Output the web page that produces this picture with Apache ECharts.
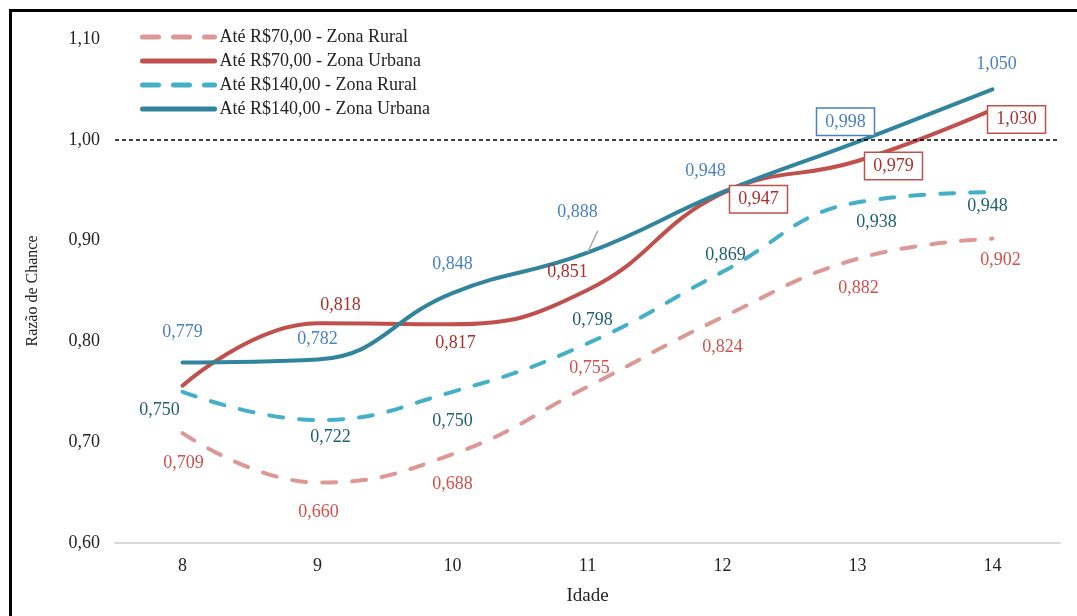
<!DOCTYPE html>
<html>
<head>
<meta charset="utf-8">
<script src="https://cdn.jsdelivr.net/npm/echarts@6/dist/echarts.min.js"></script>
<style>
  html, body { margin: 0; padding: 0; background: #fff; }
  #chart { width: 1077px; height: 616px; }
</style>
</head>
<body>
<div id="chart"></div>
<script>
// dados
var idades = ['8', '9', '10', '11', '12', '13', '14'];
var ruralAte70 = [0.709, 0.660, 0.688, 0.755, 0.824, 0.882, 0.902];
var urbanaAte70 = [0.756, 0.818, 0.817, 0.851, 0.947, 0.979, 1.030];
var ruralAte140 = [0.750, 0.722, 0.750, 0.798, 0.869, 0.938, 0.948];
var urbanaAte140 = [0.779, 0.782, 0.848, 0.888, 0.948, 0.998, 1.050];
var nomes = ['Até R$70,00 - Zona Rural', 'Até R$70,00 - Zona Urbana',
  'Até R$140,00 - Zona Rural', 'Até R$140,00 - Zona Urbana'];

// deslocamento dos rótulos [dx, dy] (null = sem rótulo)
var offRural70 = [[1, 30], [1, 30], [0, 30], [2, -18], [0, 30], [1, 30], [8, 22]];
var offUrbana70 = [null, [23, -18], [3, 19], [-20, -18], [36, 6], [36, 5], [24, 10]];
var offRural140 = [[-23, 18], [13, 17], [0, 29], [5, -23], [3, -17], [19, 20], [-5, 14]];
var offUrbana140 = [[0, -30], [0, -20], [0, -29], [-10, -40], [-17, -21], [-12, -20], [4, -25]];
var caixaUrbana70 = [false, false, false, false, true, true, true];
var caixaUrbana140 = [false, false, false, false, false, true, false];

var fonte = '"Liberation Serif", "Times New Roman", serif';

function virgula(v, d) {
  return v.toFixed(d).replace('.', ',');
}

function montaDados(valores, offs, cor, caixas, guia) {
  return valores.map(function(v, i) {
    var o = offs[i];
    if (!o) return { value: v, label: { show: false } };
    var lab = {
      show: true,
      position: 'inside',
      offset: o,
      color: cor,
      fontFamily: fonte,
      fontSize: 18,
      formatter: function() { return virgula(v, 3); }
    };
    if (caixas && caixas[i]) {
      lab.borderColor = cor === '#a8302e' ? '#c0504d' : '#4a7fc1';
      lab.borderWidth = 1.5;
      lab.padding = [5, 8, 3, 8];
      lab.backgroundColor = '#fff';
    }
    var item = { value: v, label: lab };
    if (guia && guia[i]) {
      item.labelLine = { show: true, lineStyle: { color: '#a6a6a6', width: 1.5 } };
    }
    return item;
  });
}

function serie(nome, valores, cor, tracejado, offs, corRotulo, caixas, guia) {
  return {
    name: nome,
    type: 'line',
    smooth: 0.45,
    symbol: 'circle',
    symbolSize: 1,
    showSymbol: true,
    itemStyle: { color: 'rgba(0,0,0,0)' },
    lineStyle: {
      color: cor,
      width: 4,
      type: tracejado ? [14, 16] : 'solid',
      cap: 'round'
    },
    data: montaDados(valores, offs, corRotulo, caixas, guia)
  };
}

var myChart = echarts.init(document.getElementById('chart'));

var series = [
  serie(nomes[0], ruralAte70, '#dc9896', true, offRural70, '#d0504d'),
  serie(nomes[1], urbanaAte70, '#c0504d', false, offUrbana70, '#a8302e', caixaUrbana70),
  serie(nomes[2], ruralAte140, '#46afc8', true, offRural140, '#215f6e'),
  serie(nomes[3], urbanaAte140, '#31849b', false, offUrbana140, '#4a7fc1', caixaUrbana140,
    [false, false, false, true, false, false, false])
];

// linha tracejada em 1,00
series[0].markLine = {
  silent: true,
  symbol: 'none',
  label: { show: false },
  lineStyle: { color: '#000', type: [4, 3], width: 1.5 },
  data: [{ yAxis: 1 }]
};

var option = {
  animation: false,
  backgroundColor: '#fff',
  textStyle: { fontFamily: fonte },
  graphic: [{
    type: 'rect',
    left: 8,
    top: 8,
    shape: { width: 1100, height: 700 },
    style: { fill: 'none', stroke: '#000', lineWidth: 3 },
    silent: true
  }],
  legend: {
    orient: 'vertical',
    left: 135,
    top: 23,
    itemWidth: 72,
    itemHeight: 14,
    itemGap: 6,
    itemStyle: { opacity: 0 },
    lineStyle: { width: 5, cap: 'round' },
    textStyle: { fontFamily: fonte, fontSize: 18, color: '#222', lineHeight: 18 },
    data: nomes.map(function(n, i) {
      return i % 2 === 0 ? { name: n, lineStyle: { type: [16, 15] } } : { name: n };
    })
  },
  grid: { left: 115, right: 17, top: 39, bottom: 73 },
  xAxis: {
    type: 'category',
    data: idades,
    boundaryGap: true,
    name: 'Idade',
    nameLocation: 'middle',
    nameGap: 44,
    nameTextStyle: { fontFamily: fonte, fontSize: 19, color: '#222' },
    axisLine: { lineStyle: { color: '#d9d9d9', width: 2 } },
    axisTick: { show: false },
    axisLabel: { fontFamily: fonte, fontSize: 18, color: '#222', margin: 14 }
  },
  yAxis: {
    type: 'value',
    min: 0.6,
    max: 1.1,
    interval: 0.1,
    name: 'Razão de Chance',
    nameLocation: 'middle',
    nameRotate: 90,
    nameGap: 74,
    nameTextStyle: { fontFamily: fonte, fontSize: 16, color: '#222' },
    axisLine: { show: false },
    axisTick: { show: false },
    splitLine: { show: false },
    axisLabel: {
      fontFamily: fonte, fontSize: 18, color: '#222', margin: 15,
      formatter: function(v) { return virgula(v, 2); }
    }
  },
  series: series
};

myChart.setOption(option);
</script>
</body>
</html>
